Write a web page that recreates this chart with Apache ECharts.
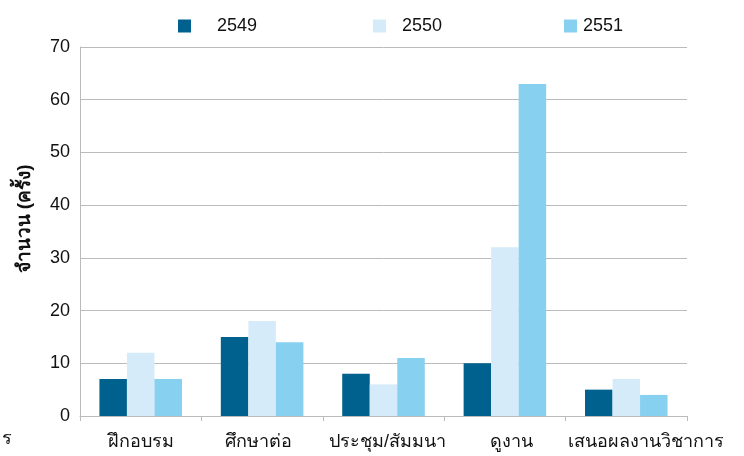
<!DOCTYPE html>
<html><head><meta charset="utf-8">
<script src="https://cdn.jsdelivr.net/npm/echarts@6/dist/echarts.min.js"></script>
<style>html,body{margin:0;padding:0;background:#fff}#c{width:744px;height:456px}</style>
</head><body><div id="c"></div>
<script>
const categories = ['ฝึกอบรม','ศึกษาต่อ','ประชุม/สัมมนา','ดูงาน','เสนอผลงานวิชาการ'];
const seriesNames = ['2549','2550','2551'];
const v2549 = [7, 15, 8, 10, 5];
const v2550 = [12, 18, 6, 32, 7];
const v2551 = [7, 14, 11, 63, 4];
const colors = ['#00608E','#D6EBF9','#88D0F0'];
const font = 'Liberation Sans, Arial, sans-serif';
const chart = echarts.init(document.getElementById('c'));
const legendPos = [173, 368, 559];
const legendPad = [21, 11, 1];
const labelShift = [0, -8, 8, 14, 40];
chart.setOption({
  animation:false,
  textStyle:{fontFamily:font},
  legend: seriesNames.map((n,i)=>({
    data:[n], left:legendPos[i], top:12, itemWidth:13, itemHeight:13, icon:'rect',
    textStyle:{fontSize:18, color:'#111', padding:[0,0,0,legendPad[i]]}
  })),
  grid:{left:80, right:57, top:47, bottom:40},
  xAxis:{type:'category',
    data:categories.map((c,i)=>({value:c, textStyle:{padding: labelShift[i]>=0 ? [0,0,0,labelShift[i]] : [0,-labelShift[i],0,0]}})),
    axisLine:{lineStyle:{color:'#bbb'}},
    axisTick:{show:true, length:5, lineStyle:{color:'#bbb'}},
    axisLabel:{fontSize:18, color:'#111', margin:17, interval:0}},
  yAxis:{type:'value', min:0, max:70, interval:10,
    axisLine:{show:true, lineStyle:{color:'#bbb'}},
    axisTick:{show:false},
    splitLine:{lineStyle:{color:'#bbb'}},
    axisLabel:{fontSize:18, color:'#111', margin:10}},
  graphic:[
    {type:'text', left:2, top:430, style:{text:'ร', fontSize:18, fill:'#111', fontFamily:font}},
    {type:'text', x:25, y:219, rotation:Math.PI/2,
      style:{text:'จำนวน (ครั้ง)', fontSize:19, fontWeight:'bold', fill:'#111', fontFamily:font, align:'center', verticalAlign:'middle'}}
  ],
  series:[v2549,v2550,v2551].map((d,i)=>({
    name:seriesNames[i], type:'bar', data:d, barGap:'0%', barCategoryGap:'32%',
    itemStyle:{color:colors[i]}
  }))
});
</script></body></html>
